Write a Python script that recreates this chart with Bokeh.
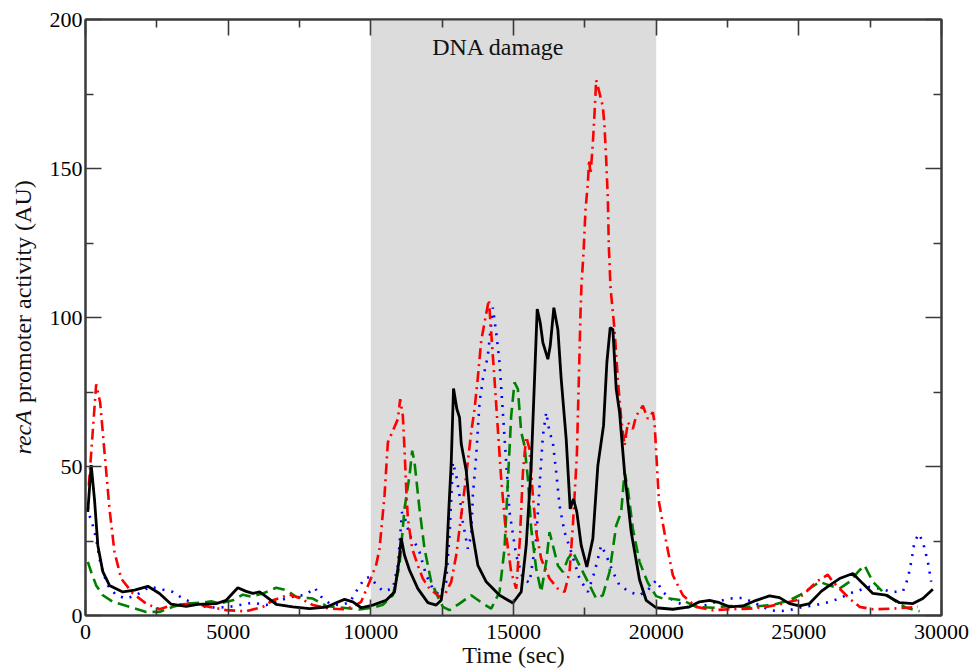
import math
from bokeh.plotting import figure
from bokeh.layouts import row
from bokeh.models import (Range1d, LinearAxis, FixedTicker, BoxAnnotation, Label,
                          CustomLabelingPolicy)
from bokeh.core.properties import value
from bokeh.embed import file_html
from bokeh.resources import INLINE

# ---------------- data ----------------
x_ticks = [0, 5000, 10000, 15000, 20000, 25000, 30000]
x_minor = [2500, 7500, 12500, 17500, 22500, 27500]
y_ticks = [0, 50, 100, 150, 200]
y_minor = [25, 75, 125, 175]

damage_start = 10000
damage_end = 20000

black_t = [80, 200, 315, 432, 607, 841, 1308, 1717, 2185, 2594, 3003, 3529, 3937, 4580, 4931,
           5338, 5630, 5864, 6099, 6332, 6683, 7266, 7851, 8435, 8786, 9077, 9369, 9662, 10070,
           10538, 10830, 10982, 11064, 11180, 11356, 11647, 11998, 12290, 12466, 12641, 12735,
           12818, 12898, 13015, 13108, 13168, 13343, 13518, 13752, 14045, 14511, 14978, 15270,
           15445, 15621, 15737, 15831, 15936, 16030, 16205, 16287, 16414, 16555, 16672, 16847,
           16987, 17103, 17220, 17373, 17570, 17781, 17956, 18155, 18272, 18389, 18483, 18600,
           18717, 18892, 19125, 19417, 19650, 20000, 20584, 21168, 21519, 21870, 22220, 22571,
           23039, 23506, 23973, 24323, 24674, 25025, 25375, 25784, 26076, 26427, 26894, 27244,
           27595, 28063, 28530, 28997, 29347, 29697]
black_v = [34.8, 50.5, 39, 23.5, 14.7, 10.1, 7.9, 8.5, 9.8, 7.4, 3.8, 3.1, 3.7, 4.0, 5.1,
           9.3, 8.1, 7.4, 7.9, 6.3, 3.7, 2.9, 2.3, 2.8, 4.3, 5.4, 4.6, 2.6, 3.5,
           5.1, 7.9, 18, 26, 20.2, 15.2, 9, 4.3, 3.5, 5.1, 16.8, 35.8,
           51.4, 76.2, 69.3, 66.5, 57.6, 48.6, 30.2, 16.8, 11.3, 6.8, 4.2, 7.9,
           23.5, 50.3, 79.3, 102.8, 98.3, 91.6, 86, 90.5, 103.3, 96, 79.3, 59.2,
           35.8, 39.1, 34.7, 23.5, 16.3, 25.8, 50.3, 63.7, 84.9, 96.6, 96, 76,
           68.2, 48.1, 28, 12, 5.1, 2.6, 2.1, 2.9, 4.6, 5.1, 4.3, 2.9,
           3.2, 5.1, 6.6, 6.0, 4.0, 3.2, 4.0, 8.1, 10.1, 12.4, 14.1, 10.7,
           7.4, 6.8, 4.3, 4.0, 5.7, 8.8]

red_t = [117, 374, 514, 666, 841, 1016, 1250, 1659, 2126, 2594, 3061, 3762, 4346, 4931, 5630,
         6216, 6566, 7150, 7501, 7968, 8552, 9019, 9369, 9662, 9955, 10188, 10304, 10480, 10597,
         10772, 10947, 11029, 11122, 11180, 11240, 11298, 11450, 11647, 11823, 12057, 12407,
         12583, 12818, 12992, 13168, 13343, 13518, 13635, 13752, 13869, 13984, 14136, 14218,
         14334, 14451, 14568, 14744, 14919, 15094, 15220, 15330, 15445, 15560, 15679, 15796,
         15971, 16263, 16555, 16789, 16964, 17081, 17220, 17290, 17349, 17383, 17454, 17524,
         17607, 17650, 17700, 17781, 17840, 17898, 18015, 18131, 18190, 18249, 18307, 18341,
         18400, 18540, 18657, 18774, 18892, 19008, 19183, 19300, 19534, 19708, 19884, 19942,
         20000, 20100, 20250, 20351, 20584, 20935, 21403, 21987, 22571, 23272, 23857, 24441,
         24908, 25259, 25609, 26017, 26193, 26427, 26777, 27128, 27595, 28296, 28764, 29171]
red_v = [43.6, 77.6, 71.5, 54.8, 35.8, 21.3, 12.4, 7.4, 4.0, 2.1, 3.5, 4.0, 2.9, 1.8, 1.4,
         2.9, 5.1, 7.0, 5.9, 3.5, 2.3, 2.1, 2.9, 4.6, 11.3, 17, 22.4, 40.3, 58.1,
         62, 65.9, 72.6, 67, 55.9, 42.5, 32.5, 22.4, 16.8, 12.4, 9, 6.3,
         6.8, 11.3, 20.2, 33.6, 47, 61.5, 69.3, 80, 92.2, 98.3, 106, 95,
         79.3, 62.6, 45.9, 26.9, 14.6, 9, 25, 48, 60, 56, 40.3, 28,
         19, 12.4, 9, 7.9, 14.6, 30.2, 53.6, 79.3, 101.7, 111, 121.7, 136.2,
         145.2, 153, 148, 158.5, 168.6, 179.7, 175.3, 170.8, 164.1, 153, 139.6, 124,
         110, 96, 79.3, 66, 57, 64.8, 62.6, 67, 70.4, 66, 68.2, 64.8,
         55, 38, 30, 24.7, 13.5, 6.8, 2.9, 1.8, 2.1, 2.3, 2.9, 4.0,
         5.1, 7.9, 11.3, 13.7, 11.3, 9, 5.7, 2.9, 2.1, 2.3, 2.6, 2.9]

green_t = [82, 199, 374, 607, 958, 1542, 2126, 2594, 3061, 3529, 4112, 4405, 4697, 5163, 5513,
           5806, 6216, 6683, 7033, 7384, 7968, 8435, 9019, 9603, 10070, 10421, 10772, 11006,
           11180, 11356, 11450, 11531, 11706, 11881, 12116, 12349, 12525, 12758, 13108, 13518,
           13926, 14218, 14510, 14685, 14801, 14919, 15036, 15153, 15270, 15386, 15504, 15621,
           15796, 15971, 16147, 16263, 16380, 16555, 16730, 16905, 17081, 17314, 17607, 17898,
           18131, 18365, 18600, 18774, 18892, 19008, 19183, 19417, 19708, 20000, 20234, 20467,
           20935, 21403, 21987, 22571, 23272, 24089, 24674, 25025, 25375, 25726, 26076, 26427,
           26777, 27128, 27303, 27595, 27945, 28413, 28764, 29231]
green_v = [18, 14.6, 10.1, 6.8, 4.6, 2.9, 1.2, 1.2, 2.9, 4.0, 4.3, 4.8, 4.0, 5.1, 7.0,
           6.3, 7.4, 9.3, 8.5, 6.3, 5.7, 3.2, 2.6, 2.0, 2.6, 3.6, 6.8, 16.8,
           35.8, 47, 55.3, 51.4, 35.8, 22.4, 11.3, 6.3, 2.9, 1.8, 4.0, 6.8,
           4.0, 2.3, 7.9, 22.4, 44.7, 67, 78.2, 76, 61.5, 57, 45.9, 29.1,
           15.7, 7.9, 18, 28, 23.5, 16.8, 14.6, 19, 21.3, 16.8, 11.3, 5.7,
           6.8, 14.6, 30.2, 34.7, 48.1, 42.5, 29.1, 18, 11, 6.5, 5.7, 5.7,
           5.1, 2.9, 2.6, 3.2, 2.9, 3.5, 5.1, 6.8, 9, 11.3, 10.1, 9,
           11.3, 15.2, 16.8, 11.3, 7.9, 4.6, 2.6, 1.4]

blue_t = [82, 140, 257, 374, 491, 607, 782, 1075, 1425, 1776, 2243, 2594, 3061, 3412, 3996,
          4580, 5047, 5397, 5864, 6332, 6800, 7266, 7735, 8027, 8260, 8552, 8903, 9253, 9545,
          9779, 9955, 10188, 10421, 10772, 10947, 11094, 11240, 11356, 11531, 11706, 11940,
          12173, 12407, 12641, 12758, 12875, 12992, 13108, 13224, 13400, 13518, 13575, 13693,
          13810, 13926, 14100, 14276, 14393, 14510, 14627, 14744, 14861, 15094, 15327, 15562,
          15796, 15913, 16030, 16147, 16263, 16380, 16497, 16613, 16789, 17022, 17314, 17607,
          17840, 18074, 18249, 18483, 18717, 19067, 19417, 19708, 20000, 20234, 20584, 21168,
          21752, 22103, 22571, 23039, 23506, 23973, 24323, 24674, 25142, 25609, 26076, 26427,
          26777, 27128, 27478, 27828, 28296, 28646, 28821, 28938, 29054, 29206, 29347, 29522,
          29639]
blue_v = [36.4, 33.6, 30.2, 25.8, 19, 14.6, 10.1, 6.8, 5.7, 6.8, 9.6, 9, 7.9, 5.7, 3.2,
          2.6, 2.9, 3.5, 4.3, 3.5, 5.1, 6.3, 7.0, 9.3, 6.3, 4.0, 3.5, 4.3, 9,
          12.4, 12.9, 10.5, 8.2, 9, 16.8, 34.7, 31.4, 26.9, 24.7, 21.3, 13.5,
          9, 6.8, 11.3, 26.9, 51.4, 47, 40.3, 31.4, 22.4, 26.9, 40.3, 53.6,
          71.5, 79.3, 87.1, 103.3, 95, 84.9, 68.2, 51.4, 34.7, 20.2, 12.4, 11,
          25.8, 43.6, 60.3, 68.2, 61.5, 58.1, 48.1, 36.9, 28, 21.3, 12.4, 7.9,
          14.6, 23.5, 20.2, 14.6, 10.1, 7.9, 6.8, 8.5, 11.8, 7.9, 5.1, 2.6,
          3.5, 4.6, 5.7, 5.9, 4.0, 1.8, 1.4, 1.8, 2.9, 3.5, 4.6, 5.7,
          7.4, 8.5, 9.6, 9, 7.9, 8.1, 12.4, 18, 24.7, 27.4, 24.7, 18,
          11.3]

for a, b in [(black_t, black_v), (red_t, red_v), (green_t, green_v), (blue_t, blue_v)]:
    assert len(a) == len(b), (len(a), len(b))

SERIF = "Liberation Serif"
AXIS_COLOR = "#3a3a3a"
TEXT_COLOR = "#111111"
H = 670

# ---------------- main figure ----------------
p = figure(width=930, height=H, output_backend="svg", toolbar_location=None,
           x_range=Range1d(0, 30000), y_range=Range1d(0, 200),
           min_border_left=45, min_border_right=29, min_border_top=19, min_border_bottom=54,
           background_fill_color="white", border_fill_color="white")
p.outline_line_color = AXIS_COLOR
p.outline_line_width = 2
p.xgrid.visible = False
p.ygrid.visible = False

HIDE_CODE = """
    for (const i of indices) { indices.unset(i) }
    return indices
"""
p.add_layout(LinearAxis(major_label_policy=CustomLabelingPolicy(code=HIDE_CODE)), "above")
p.add_layout(LinearAxis(major_label_policy=CustomLabelingPolicy(code=HIDE_CODE)), "right")

for ax in p.xaxis:
    ax.ticker = FixedTicker(ticks=x_ticks, minor_ticks=x_minor)
for ax in p.yaxis:
    ax.ticker = FixedTicker(ticks=y_ticks, minor_ticks=y_minor)

for ax in p.xaxis + p.yaxis:
    ax.axis_line_color = AXIS_COLOR
    ax.axis_line_width = 2
    ax.major_tick_line_color = AXIS_COLOR
    ax.minor_tick_line_color = AXIS_COLOR
    ax.major_tick_line_width = 1.6
    ax.minor_tick_line_width = 1.6
    ax.major_tick_in = 16
    ax.major_tick_out = 0
    ax.minor_tick_in = 8
    ax.minor_tick_out = 0
    ax.major_label_text_font = SERIF
    ax.major_label_text_font_size = "22px"
    ax.major_label_text_color = "black"
    ax.major_label_standoff = 6

p.above[0].major_label_text_font_size = "2px"
p.above[0].major_label_standoff = 0
p.right[0].major_label_text_font_size = "2px"
p.right[0].major_label_standoff = 0
p.below[0].major_label_standoff = 9
p.left[0].major_label_standoff = 3

xa = p.below[0]
xa.axis_label = "Time (sec)"
xa.axis_label_text_font = SERIF
xa.axis_label_text_font_size = "24px"
xa.axis_label_text_font_style = "normal"
xa.axis_label_text_color = TEXT_COLOR
xa.axis_label_standoff = 0

# shaded DNA damage window
p.add_layout(BoxAnnotation(left=damage_start, right=damage_end, fill_color="#dcdcdc",
                           fill_alpha=1.0, line_color=None, level="underlay"))

# series
p.line(blue_t, blue_v, line_color="#0000ff", line_width=2.6, line_dash="2 7")
p.line(green_t, green_v, line_color="#008000", line_width=2.6, line_dash="12 6")
p.line(red_t, red_v, line_color="#ff0000", line_width=2.6, line_dash="11 5 2 5")
p.line(black_t, black_v, line_color="black", line_width=2.8)

p.add_layout(Label(x=12150, y=190.9, text="DNA damage", text_align="left",
                   text_baseline="middle", text_font=SERIF, text_font_size="24px",
                   text_color=TEXT_COLOR))

# ---------------- y-axis title strip (mixed italic / upright) ----------------
ylab = figure(width=40, height=H, output_backend="svg", toolbar_location=None,
              x_range=Range1d(0, 40), y_range=Range1d(0, H),
              x_axis_location=None, y_axis_location=None,
              min_border=0, background_fill_color="white", border_fill_color="white")
ylab.grid.visible = False
ylab.outline_line_color = None
ylab.text(x=[22], y=[181], text=["recA"], angle=math.pi / 2, text_align="left",
          text_baseline="middle", text_font=value(SERIF), text_font_size=value("24px"),
          text_font_style="italic", text_color=TEXT_COLOR)
ylab.text(x=[22], y=[239], text=["promoter activity (AU)"], angle=math.pi / 2,
          text_align="left", text_baseline="middle", text_font=value(SERIF),
          text_font_size=value("24px"), text_color=TEXT_COLOR)

layout = row(ylab, p)
open("out.html", "w").write(file_html(layout, INLINE))
